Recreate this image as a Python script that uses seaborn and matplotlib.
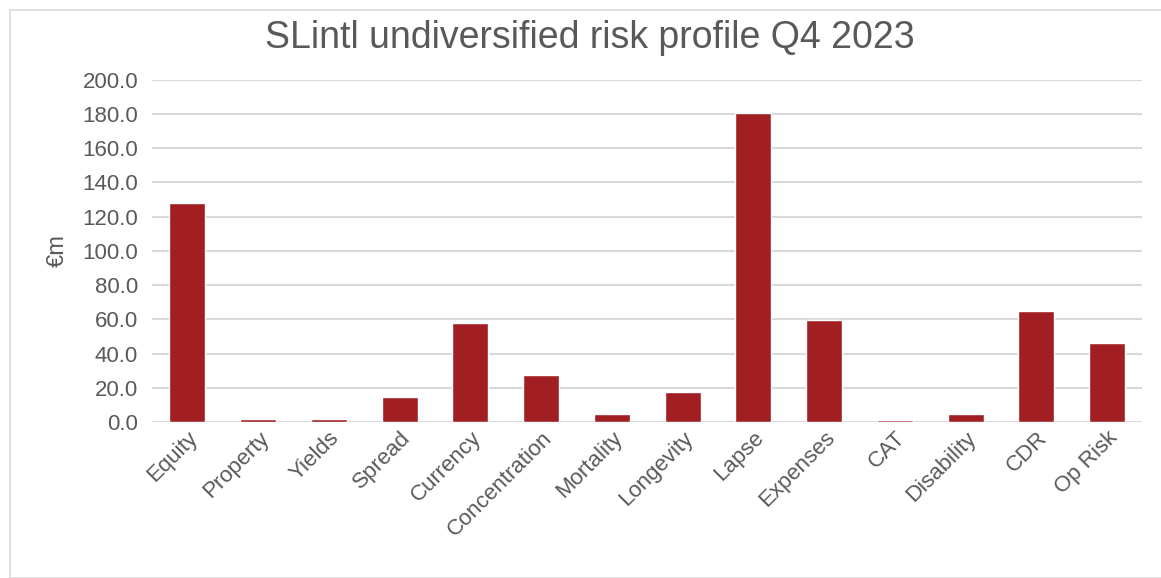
import matplotlib
matplotlib.use("Agg")
import matplotlib.pyplot as plt
import seaborn as sns
import pandas as pd
from matplotlib.patches import Rectangle

categories = ['Equity', 'Property', 'Yields', 'Spread', 'Currency', 'Concentration',
              'Mortality', 'Longevity', 'Lapse', 'Expenses', 'CAT', 'Disability',
              'CDR', 'Op Risk']
values = [128.0, 1.5, 1.5, 14.6, 58.0, 27.5, 4.6, 17.5, 180.5, 59.5, 1.0, 4.5, 65.0, 46.0]
yticks = [0, 20, 40, 60, 80, 100, 120, 140, 160, 180, 200]

df = pd.DataFrame({'risk': categories, 'value': values})

sns.set_style('white')
plt.rcParams['font.family'] = ['Liberation Sans', 'DejaVu Sans']

fig = plt.figure(figsize=(11.61, 5.78), dpi=100)
ax = fig.add_axes([0.131, 0.27, 0.853, 0.592])

# light frame around the chart
fig.patches.append(Rectangle((10 / 1161, 0.0), 1.0, (578 - 10) / 578, transform=fig.transFigure,
                             fill=False, edgecolor='#d9d9d9', linewidth=1.2))

sns.barplot(data=df, x='risk', y='value', color='#a11f22', width=0.51, ax=ax,
            saturation=1, zorder=3)

ax.set_ylim(0, 200)
ax.set_xlim(-0.5, len(categories) - 0.5)
ax.set_yticks(yticks)
ax.set_yticklabels(['{:.1f}'.format(t) for t in yticks])
ax.yaxis.grid(True, color='#d9d9d9', linewidth=1.5, zorder=0)
ax.set_axisbelow(True)
for s in ax.spines.values():
    s.set_visible(False)
ax.tick_params(axis='both', length=0, labelsize=16, colors='#595959', pad=10)
ax.tick_params(axis='x', pad=4)
plt.setp(ax.get_xticklabels(), rotation=45, ha='right', rotation_mode='anchor')

ax.set_xlabel('')
ax.set_ylabel('€m', fontsize=17, color='#595959', labelpad=10)
fig.suptitle('SLintl undiversified risk profile Q4 2023', x=0.508, y=0.965,
             fontsize=27, color='#595959')

fig.savefig('out.png', dpi=100)
